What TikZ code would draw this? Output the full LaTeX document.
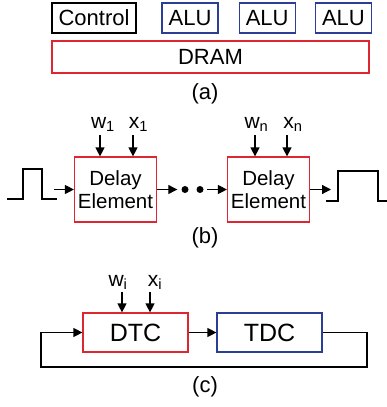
\documentclass[tikz,border=0pt]{standalone}
\usepackage{fontspec}
\setmainfont{Liberation Sans}
\usetikzlibrary{arrows.meta, positioning}
\definecolor{vermelho}{RGB}{222,38,48}
\definecolor{azul}{RGB}{42,62,150}
\tikzset{
    caixa/.style={rectangle, draw, line width=1.2pt, inner sep=0pt, align=center, font=\fontsize{22}{24}\selectfont},
    caixa_preta/.style={caixa, draw=black, minimum width=84pt, minimum height=30pt},
    caixa_azul/.style={caixa, draw=azul, minimum width=56pt, minimum height=30pt},
    memoria/.style={caixa, draw=vermelho, minimum width=317pt, minimum height=32pt},
    atraso/.style={caixa, draw=vermelho, minimum width=82pt, minimum height=65pt, font=\fontsize{20.5}{23}\selectfont},
    conversor/.style={caixa, minimum width=105pt, minimum height=39pt, font=\fontsize{25}{28}\selectfont},
    rotulo/.style={inner sep=0pt, anchor=base, font=\fontsize{21}{24}\selectfont},
    legenda/.style={inner sep=0pt, font=\fontsize{22}{26}\selectfont},
    ponto/.style={circle, fill=black, inner sep=0pt, minimum size=7pt},
    seta/.style={line width=1.2pt, -{Triangle[length=9pt,width=9pt]}},
    linha/.style={line width=1.2pt}
}
\begin{document}
\begin{tikzpicture}[x=1pt, y=-1pt]
        \useasboundingbox (0,0) rectangle (386,407);

        % (a) Blocos da arquitetura
        \node (controle) [caixa_preta] at (94,18) {Control};
        \node (alu1) [caixa_azul] at (190,18) {ALU};
        \node (alu2) [caixa_azul, right=20pt of alu1] {ALU};
        \node (alu3) [caixa_azul, right=19pt of alu2] {ALU};
        \node (dram) [memoria] at (210.5,57) {DRAM};
        \node (leg_a) [legenda] at (205,94) {(a)};

        % (b) Cadeia de elementos de atraso
        \node (atraso1) [atraso] at (115.5,189.5) {Delay\\Element};
        \node (atraso2) [atraso] at (268.5,189.5) {Delay\\Element};
        \node (p1) [ponto] at (185,189.5) {};
        \node (p2) [ponto] at (200,189.5) {};
        \node (leg_b) [legenda] at (205,238) {(b)};

        \node (w1) [rotulo] at (103,128) {w\textsubscript{1}};
        \node (x1) [rotulo] at (138.5,128) {x\textsubscript{1}};
        \node (wn) [rotulo] at (256.5,128) {w\textsubscript{n}};
        \node (xn) [rotulo] at (293,128) {x\textsubscript{n}};
        \coordinate (w1_in) at (100,135);
        \coordinate (x1_in) at (133,135);
        \coordinate (wn_in) at (255,135);
        \coordinate (xn_in) at (287,135);
        \coordinate (entrada) at (54,189.5);
        \coordinate (saida) at (331,189.5);

        % Pulsos
        \draw [linha] (7,199) -- (23,199) -- (23,169) -- (42,169) -- (42,199) -- (57,199);
        \draw [linha] (326,201) -- (338,201) -- (338,171) -- (378,171) -- (378,201) -- (388,201);

        \draw [seta] (w1_in) -- (w1_in |- atraso1.north);
        \draw [seta] (x1_in) -- (x1_in |- atraso1.north);
        \draw [seta] (wn_in) -- (wn_in |- atraso2.north);
        \draw [seta] (xn_in) -- (xn_in |- atraso2.north);
        \draw [seta] (entrada) -- (atraso1.west);
        \draw [seta, shorten >=4pt] (atraso1.east) -- (p1.west);
        \draw [seta, shorten <=3.5pt] (p2.east) -- (atraso2.west);
        \draw [seta] (atraso2.east) -- (saida);

        % (c) DTC e TDC em laco
        \node (dtc) [conversor, draw=vermelho] at (135.5,332.5) {DTC};
        \node (tdc) [conversor, draw=azul] at (269.5,332.5) {TDC};
        \node (wi) [rotulo] at (118,286) {w\textsubscript{i}};
        \node (xi) [rotulo] at (155,286) {x\textsubscript{i}};
        \coordinate (wi_in) at (122,292);
        \coordinate (xi_in) at (150,292);
        \coordinate (retorno_dir) at (367,367);
        \coordinate (retorno_esq) at (41,367);
        \node (leg_c) [legenda] at (205,387) {(c)};

        \draw [seta] (wi_in) -- (wi_in |- dtc.north);
        \draw [seta] (xi_in) -- (xi_in |- dtc.north);
        \draw [seta] (dtc.east) -- (tdc.west);
        \draw [seta] (tdc.east) -| (retorno_dir) -- (retorno_esq) |- (dtc.west);

    \end{tikzpicture}
\end{document}
